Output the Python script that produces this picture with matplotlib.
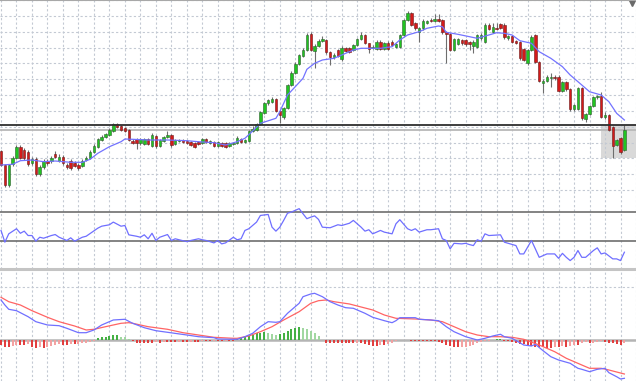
import numpy as np
import matplotlib
matplotlib.use('Agg')
import matplotlib.pyplot as plt
from matplotlib.patches import Rectangle

# candles, price in points
opens = [49.3, 35, 15, 35.7, 42.3, 53.3, 50, 48.3, 36.7, 40.7, 26, 33.3, 39, 39.3, 45.7, 39.3, 42.7, 35, 39, 37.3,
         35, 34.3, 40, 42.3, 48.3, 53.3, 60, 63.3, 65, 69, 76, 74, 71.7, 70, 59.3, 60.7, 56.7, 56, 60.7, 54.3,
         64, 54.3, 59.3, 62.7, 65, 56, 59.3, 60, 59, 57.7, 57.3, 58.3, 57.3, 60.7, 57.3, 58.3, 54.3, 57.3, 57.3, 54.3,
         56, 57.3, 60.7, 58.3, 59.3, 69.3, 70, 76, 86.7, 96.7, 98.3, 100.7, 89, 82.7, 91.7, 115, 126.7, 136, 144.3, 150,
         166, 149.3, 154, 159.3, 160, 148.3, 142.7, 150, 140.7, 151.7, 151.7, 150, 155, 160.7, 165, 156.7, 151.7, 150.7, 158.3, 150.7,
         157.3, 158.3, 153.3, 153.3, 165, 180, 186.7, 176.7, 167.7, 171.7, 177.3, 180, 179.3, 180.7, 180, 167.7, 166, 150, 156, 160,
         160, 158.3, 154, 153.3, 161.7, 158.3, 175, 168.3, 172.3, 175.7, 175, 161.7, 164, 159.3, 158.3, 150.7, 136.7, 150, 165, 138.3,
         116.7, 119.3, 122, 123.3, 123.3, 109.3, 118.3, 110.7, 90.7, 90.7, 111.7, 81, 86, 94, 102.7, 104, 82.7, 85, 72.7, 55,
         61.7, 50]
highs = [50, 36, 36, 44, 55, 55, 52, 50, 43, 43, 35, 41, 41, 44, 49.3, 46, 45, 37, 41, 39,
         37, 41, 44, 50, 56, 62, 65, 67, 72, 77, 77, 75, 73, 71, 61, 62, 62, 62, 62, 67,
         65, 61, 64, 69, 66, 61, 61, 61, 60, 59, 58, 59, 62, 62, 60, 59, 59, 58, 58, 58,
         58, 64, 62, 61, 70, 74, 77, 89, 98, 101, 103, 102, 90, 93, 116, 129, 138, 146, 152, 167,
         168, 156, 161, 164, 161, 149, 147, 151, 154, 153, 153, 156, 162, 168, 166, 157, 155, 160, 160, 158,
         159, 160, 157, 166, 181, 189, 188, 178, 173, 181, 180, 182, 186, 186, 181, 169, 167, 162, 162, 161,
         161, 159, 160, 166, 167, 177, 177, 177, 177, 177, 177, 165, 165, 160, 159, 152, 151, 165, 166, 139,
         121, 125, 127, 125, 125, 119, 119, 112, 96, 113, 113, 87, 95, 104, 105, 108, 88, 86, 74, 61,
         63, 75]
lows = [34, 13, 13, 34, 41, 41, 40, 34, 35, 24, 24, 31, 35, 37, 42, 38, 35, 31, 30, 33,
        30, 33, 39, 41, 47, 52, 59, 62, 64, 68, 72, 69, 68, 59, 56, 51, 55, 55, 55, 53,
        52, 53, 58, 62, 53, 55, 58, 57, 56, 54, 52, 55, 56, 57, 56, 53, 53, 53, 52, 53,
        55, 56, 57, 57, 58, 68, 69, 75, 86, 95, 97, 88, 76.7, 81, 91, 114, 126, 135, 143, 149,
        149, 131.7, 153, 158, 146, 135, 141, 143, 139, 148, 147, 149, 154, 160, 156, 147, 151, 150, 150, 150,
        150, 154, 152, 152, 164, 179, 174, 170, 158.3, 170, 176, 178, 178, 178, 166, 136.7, 149, 149, 155, 155,
        154, 150, 147, 152, 160, 157, 170, 167, 170, 171, 161, 160, 157, 156, 140, 139, 135, 149, 137, 118,
        107, 118, 113, 120, 108, 108, 109, 89, 89, 90, 80, 78, 85, 93, 101, 82, 81, 69, 41.7, 54,
        46, 49]
closes = [35, 15, 35, 42.3, 53.3, 42.3, 41.7, 35.7, 40.7, 26, 33.3, 39.3, 36.7, 42.3, 43.3, 43.3, 36.7, 32.7, 31.7, 34.3,
          31.7, 39.3, 42.3, 48.3, 54.3, 60.7, 63.3, 65.7, 70, 75.7, 73.3, 70, 69.3, 60, 57.3, 57.3, 60.7, 60.7, 56, 65,
          54, 60, 62.7, 65, 55, 60, 60, 58.3, 56.7, 55, 53.3, 56, 60.7, 58.3, 59.3, 54.3, 58.3, 54.3, 53.3, 56.7,
          57.3, 62.3, 57.7, 60, 69.3, 70.7, 76, 87.7, 97.3, 100, 101, 89, 85, 91.7, 115, 127.3, 136, 145, 150, 165,
          150, 154, 159, 160.7, 147.7, 142.7, 145, 144, 152.3, 149.3, 148.3, 155, 160.7, 165, 156.7, 150.7, 153.3, 158.3, 150.7, 156.7,
          150.7, 155, 155.7, 165, 180, 187.3, 175, 171.7, 171.7, 179.3, 179.3, 179, 180.7, 179.3, 167.7, 166, 150, 160.7, 160.7, 156.7,
          155.7, 155.7, 158.3, 165, 165, 175, 171, 172.7, 170.7, 172.3, 162.7, 164, 158.3, 157.3, 141.7, 140, 150, 163.3, 138.3, 119.3,
          119.3, 123.3, 123, 121.7, 109.3, 118.3, 110.7, 90.7, 95, 111.7, 81.7, 86, 94, 102.7, 104, 82.7, 85, 70, 54, 60,
          48.3, 70]

# moving average on price
ma_bar = [0, 3, 5, 8, 11, 14, 18, 21, 23, 25, 28, 31, 32, 34, 38, 43, 48, 51, 55, 58, 61, 63, 65, 67, 71, 72, 74, 76,
          78, 79, 81, 83, 86, 88, 91, 93, 98, 101, 103, 105, 108, 110, 113, 114, 115, 118, 121, 123, 126, 128, 130,
          132, 134, 137, 139, 142, 145, 147, 150, 152, 155, 157, 159, 161]
ma_val = [35, 35.7, 39.3, 40, 38.3, 39, 37.7, 37.7, 40.7, 46.7, 53.3, 58.3, 61, 60.7, 60, 60, 59.3, 58.3, 57.3, 55,
          58.3, 61.7, 69, 76.7, 81.7, 88.3, 105, 113.3, 121.7, 130.7, 136.7, 140, 141.7, 145, 150, 151.7, 151.7, 153.3,
          160, 165, 168.3, 171.7, 174, 173.3, 167.7, 165.7, 163.3, 161.7, 165, 167.3, 166.7, 165, 159.3, 156.7, 148.3,
          141.7, 133.3, 125, 115, 108.3, 105, 98.3, 86.7, 80]

# horizontal line and rectangle objects
hline_price = 75.5
box_start = 155
box_low, box_high = 42, 75

# oscillator (CCI)
cci_bar = [0, 1, 2, 4, 5, 6, 7, 8, 9, 10, 11, 13, 14, 15, 17, 18, 19, 21, 22, 25, 26, 28, 29, 31, 32, 33, 35, 36,
           37, 38, 39, 40, 41, 43, 44, 45, 46, 48, 49, 51, 52, 53, 55, 56, 57, 58, 60, 61, 62, 63, 64, 66, 67, 69,
           70, 71, 72, 73, 74, 75, 77, 78, 79, 80, 81, 82, 83, 85, 87, 88, 90, 91, 93, 94, 95, 96, 98, 99, 101, 102,
           103, 105, 106, 107, 108, 110, 111, 113, 114, 115, 116, 117, 119, 120, 121, 122, 123, 124, 125, 126, 129,
           130, 131, 133, 134, 135, 137, 138, 139, 141, 143, 144, 145, 146, 147, 148, 149, 150, 151, 153, 154, 155,
           156, 158, 159, 160, 161]
cci_val = [-28, -111, -52, -16, -48, -33, -64, -64, -104, -76, -83, -64, -57, -76, -99, -80, -104, -76, -69, -12, 2,
           12, 31, 2, 7, -59, -69, -76, -59, -87, -48, -99, -76, -57, -99, -87, -94, -107, -99, -87, -94, -99, -116,
           -99, -123, -116, -76, -94, -87, -28, -16, 31, 78, 85, -5, -33, -5, 43, 94, 102, 126, 90, 55, 66, 75, 50,
           -5, -9, 12, 7, 23, 43, -5, -33, -23, -52, -28, -40, -52, 19, 48, -16, -28, -16, -40, -23, -23, -16, -87,
           -99, -158, -119, -123, -119, -128, -135, -94, -104, -52, -64, -59, -111, -119, -135, -194, -194, -99, -158,
           -218, -194, -194, -225, -190, -218, -241, -218, -170, -218, -218, -170, -151, -194, -187, -229, -229, -241,
           -182]
cci_levels = [100, -100]

# MACD
macd_bar = [0, 1, 2, 4, 5, 7, 9, 12, 15, 17, 20, 22, 24, 26, 29, 32, 34, 37, 40, 43, 48, 51, 55, 56, 60, 61, 63,
            65, 67, 69, 71, 72, 74, 77, 78, 80, 81, 83, 85, 87, 89, 91, 94, 96, 99, 101, 102, 103, 107, 108, 111,
            113, 115, 117, 120, 123, 125, 127, 129, 130, 132, 135, 137, 138, 140, 142, 144, 147, 149, 150, 152, 154,
            156, 157, 159, 160, 161]
macd_val = [4.0, 3.5, 3.07, 2.93, 2.73, 2.33, 1.83, 1.5, 1.43, 1.17, 0.73, 0.73, 1.0, 1.5, 2.0, 2.07, 1.67, 1.23,
            0.93, 0.77, 0.5, 0.33, 0.23, 0.1, 0.07, 0.07, 0.33, 0.67, 1.33, 1.83, 1.77, 1.83, 2.67, 3.67, 4.33, 4.6,
            4.67, 4.33, 3.83, 3.5, 3.23, 3.17, 2.67, 2.27, 1.93, 1.73, 1.93, 2.23, 2.23, 2.07, 2.0, 1.93, 1.33, 0.83,
            0.33, 0.0, 0.17, 0.4, 0.57, 0.33, 0.17, -0.5, -0.6, -0.43, -1.07, -1.67, -2.0, -2.33, -2.83, -2.93, -3.17,
            -2.93, -2.83, -3.27, -3.67, -3.9, -3.83]
signal_bar = [0, 2, 5, 8, 12, 15, 19, 22, 24, 27, 31, 33, 34, 38, 43, 47, 51, 55, 60, 61, 64, 67, 70, 73, 77, 80,
              82, 84, 86, 90, 92, 96, 99, 102, 107, 111, 114, 117, 120, 123, 126, 129, 132, 135, 139, 143, 146, 150,
              152, 155, 157, 161]
signal_val = [4.27, 3.83, 3.5, 2.93, 2.27, 1.83, 1.4, 1.0, 1.07, 1.33, 1.67, 1.73, 1.67, 1.33, 1.07, 0.73, 0.5,
              0.27, 0.17, 0.17, 0.4, 0.83, 1.33, 2.0, 2.83, 3.67, 3.93, 4.0, 3.83, 3.6, 3.4, 3.0, 2.5, 2.17, 2.1, 2.0,
              1.83, 1.33, 0.83, 0.5, 0.33, 0.33, 0.27, 0.07, -0.5, -1.17, -1.83, -2.5, -2.83, -2.83, -3.0, -3.4]
hist = [-0.5, -0.67, -0.67, -0.6, -0.5, -0.5, -0.5, -0.4, -0.67, -0.77, -0.67, -0.77, -0.67, -0.6, -0.5, -0.4, -0.5,
        -0.5, -0.43, -0.43, -0.4, -0.33, -0.27, -0.17, -0.07, 0.17, 0.27, 0.33, 0.43, 0.5, 0.5, 0.33, 0.27, 0.1, -0.1,
        -0.27, -0.27, -0.27, -0.27, -0.27, -0.23, -0.27, -0.23, -0.23, -0.23, -0.23, -0.2, -0.2, -0.2, -0.17, -0.17,
        -0.17, -0.13, -0.13, -0.13, -0.1, -0.1, -0.1, -0.07, -0.07, -0.07, 0.07, 0.17, 0.27, 0.4, 0.5, 0.67, 0.67,
        0.83, 0.67, 0.57, 0.5, 0.6, 0.67, 0.93, 1.07, 1.17, 1.33, 1.17, 1.07, 0.93, 0.67, 0.4, 0.0, -0.27, -0.27,
        -0.33, -0.33, -0.33, -0.33, -0.33, -0.33, -0.27, -0.33, -0.43, -0.5, -0.57, -0.57, -0.5, -0.5, -0.43, -0.33,
        -0.1, 0.03, 0.03, -0.03, -0.07, -0.1, -0.1, -0.1, -0.1, -0.1, -0.13, -0.17, -0.33, -0.5, -0.63, -0.67, -0.73,
        -0.7, -0.67, -0.57, -0.5, -0.33, -0.23, -0.1, -0.07, 0.0, 0.07, 0.07, -0.07, -0.1, -0.23, -0.27, -0.4, -0.43,
        -0.5, -0.6, -0.67, -0.67, -0.73, -0.77, -0.77, -0.67, -0.67, -0.6, -0.67, -0.6, -0.5, -0.5, -0.33, -0.23,
        -0.33, -0.27, -0.17, -0.1, -0.17, -0.27, -0.33, -0.43, -0.5, -0.33]

grid_col = '#c3c9d3'
grid_ls = (0, (2, 2))

fig = plt.figure(figsize=(6.36, 3.81), dpi=100)
fig.patch.set_facecolor('white')
ax1 = fig.add_axes([0, 0.4698, 1, 0.5302])
ax2 = fig.add_axes([0, 0.2940, 1, 0.1758])
ax3 = fig.add_axes([0, 0, 1, 0.2940])

n = len(opens)
x = np.arange(n)
for ax in (ax1, ax2, ax3):
    ax.set_xlim(-0.26, 163.3)
    ax.set_xticks(np.arange(0, n + 4, 4))
    ax.tick_params(left=False, bottom=False, labelleft=False, labelbottom=False)
    for s in ax.spines.values():
        s.set_visible(False)
    ax.grid(True, color=grid_col, linestyle=grid_ls, linewidth=0.8)
    ax.set_axisbelow(True)

# main window
o = np.array(opens)
c = np.array(closes)
up = c >= o
body_lo = np.minimum(o, c)
body_h = np.maximum(np.abs(c - o), 0.8)
ax1.add_patch(Rectangle((box_start, box_low), 20, box_high - box_low, facecolor='#d9d9d9',
                        edgecolor='none', zorder=0.5))
ax1.vlines(x, lows, highs, color='#6e6e6e', linewidth=0.8, zorder=2)
ax1.bar(x[up], body_h[up], bottom=body_lo[up], width=0.64, color='#21c421', edgecolor='#2f5f2f',
        linewidth=0.4, zorder=3)
ax1.bar(x[~up], body_h[~up], bottom=body_lo[~up], width=0.64, color='#d41a1a', edgecolor='#6b1a1a',
        linewidth=0.4, zorder=3)
ax1.plot(ma_bar, ma_val, color='#7373ff', linewidth=0.9, zorder=4)
ax1.axhline(hline_price, color='#2e2e2e', linewidth=1.3, zorder=4)
ax1.axhline(closes[-1], color='#b8b8b8', linewidth=1.3, zorder=1)
ax1.set_ylim(-2, 200)
ax1.set_yticks(np.arange(10, 200, 15.82))
ax1.spines['top'].set_visible(True)
ax1.spines['top'].set_color('#a8a8a8')
ax1.spines['top'].set_linewidth(1.5)
ax1.plot([0.994], [0.985], marker='v', markersize=4, color='#6a6a6a', transform=ax1.transAxes,
         clip_on=False)

# CCI window
ax2.set_ylim(-300.5, 173)
ax2.set_yticks([])
for lv in cci_levels:
    ax2.axhline(lv, color='#6e6e6e', linewidth=1.2)
ax2.plot(cci_bar, cci_val, color='#6f6fff', linewidth=0.9)

# MACD window
ax3.set_ylim(-4.1, 7.1)
ax3.set_yticks([5.3])
ax3.spines['top'].set_visible(True)
ax3.spines['top'].set_color('#c4c4c4')
ax3.spines['top'].set_linewidth(2.2)
ax3.axhline(0, color='#b4b4b4', linewidth=1.8, zorder=1)
h = np.array(hist)
grow = np.abs(h) >= np.abs(np.concatenate([[0], h[:-1]]))
cols = np.where(h >= 0, np.where(grow, '#3fae3f', '#9fd69f'), np.where(grow, '#e23a3a', '#f4a0a0'))
ax3.vlines(x, 0, h, colors=cols, linewidth=1.4, zorder=2)
ax3.plot(signal_bar, signal_val, color='#ff6464', linewidth=0.9, zorder=3)
ax3.plot(macd_bar, macd_val, color='#7070ff', linewidth=0.9, zorder=4)

fig.savefig('out.png', dpi=100)
